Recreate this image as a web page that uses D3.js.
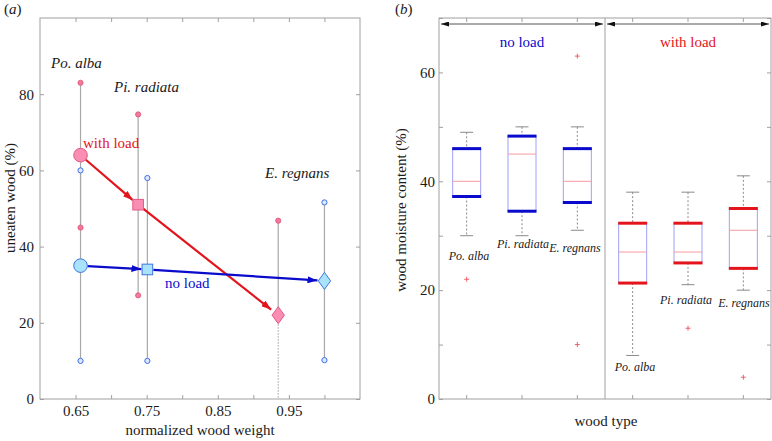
<!DOCTYPE html>
<html><head><meta charset="utf-8">
<script src="https://cdn.jsdelivr.net/npm/d3@7"></script>
<style>
html,body{margin:0;padding:0;background:#fff;}
svg{display:block;font-family:"Liberation Serif","Times New Roman",serif;}
</style></head>
<body><svg id="chart" width="772" height="441"></svg>
<script>
// ---------- Panel (a) data ----------
const species = ["Po. alba", "Pi. radiata", "E. regnans"];
const weightWithLoad = [0.657, 0.738, 0.935];
const weightNoLoad   = [0.657, 0.751, 1.0];
const uneatenWithLoad = [64, 51, 22];
const uneatenNoLoad   = [35, 34, 31];
const maxWithLoad = [83, 74.7, 46.8];
const minWithLoad = [45, 27.2, 0];
const maxNoLoad   = [60, 58, 51.6];
const minNoLoad   = [10, 10, 10.2];
const xTicksA = [0.65, 0.70, 0.75, 0.80, 0.85, 0.90, 0.95, 1.00];
const xLabelsA = [0.65, 0.75, 0.85, 0.95];
const yTicksA = [0, 20, 40, 60, 80];

// ---------- Panel (b) data ----------
const groups = ["no load", "with load"];
const noLoadHi  = [49, 50, 50];
const noLoadQ3  = [46, 48.3, 46];
const noLoadMed = [40, 45, 40];
const noLoadQ1  = [37.2, 34.5, 36.1];
const noLoadLo  = [30, 30, 31];
const noLoadOut = [[22], [], [63, 10]];
const withLoadHi  = [38, 38, 41];
const withLoadQ3  = [32.3, 32.3, 35];
const withLoadMed = [27, 27, 31];
const withLoadQ1  = [21.3, 25, 24];
const withLoadLo  = [8, 21, 20];
const withLoadOut = [[], [13], [4]];
const yTicksB = [0, 10, 20, 30, 40, 50, 60, 70];
const yLabelsB = [0, 20, 40, 60];

const svg = d3.select("#chart");
const frameColor = "#a0a0a0";
const textColor = "#1a1a1a";

// arrow markers
const defs = svg.append("defs");
function mk(id, color, w, h) {
  defs.append("marker").attr("id", id).attr("viewBox", `0 0 ${w} ${h}`)
    .attr("markerUnits", "userSpaceOnUse").attr("markerWidth", w).attr("markerHeight", h)
    .attr("refX", w).attr("refY", h / 2).attr("orient", "auto-start-reverse")
    .append("path").attr("d", `M0,0 L${w},${h/2} L0,${h} z`).attr("fill", color);
}
mk("arRed", "#e3141b", 10, 7);
mk("arBlue", "#0b0bcc", 10, 7);
mk("arBlack", "#111", 8, 5);

// ================= Panel (a) =================
const xA = d3.scaleLinear().domain([0.6, 1.05]).range([40, 360]);
const yA = d3.scaleLinear().domain([0, 100]).range([399, 18]);
const gA = svg.append("g");

gA.append("rect").attr("x", 40).attr("y", 18).attr("width", 320).attr("height", 381)
  .attr("fill", "none").attr("stroke", frameColor);

function styleAxis(g, fs) {
  g.select(".domain").remove();
  g.selectAll(".tick line").attr("stroke", frameColor);
  g.selectAll(".tick text").attr("fill", textColor).attr("font-size", fs)
    .attr("font-family", "Liberation Serif");
}
gA.append("g").attr("transform", "translate(0,399)")
  .call(d3.axisBottom(xA).tickValues(xTicksA).tickSize(-4).tickPadding(6)
    .tickFormat(d => xLabelsA.some(v => Math.abs(v - d) < 1e-9) ? d3.format(".2f")(d) : ""))
  .call(g => styleAxis(g, 15));
gA.append("g").attr("transform", "translate(0,18)")
  .call(d3.axisTop(xA).tickValues(xTicksA).tickSize(-4).tickFormat(""))
  .call(g => styleAxis(g, 15));
gA.append("g").attr("transform", "translate(40,0)")
  .call(d3.axisLeft(yA).tickValues(yTicksA).tickSize(-4).tickPadding(6))
  .call(g => styleAxis(g, 15));
gA.append("g").attr("transform", "translate(360,0)")
  .call(d3.axisRight(yA).tickValues(yTicksA).tickSize(-4).tickFormat(""))
  .call(g => styleAxis(g, 15));

// range lines
const lineColor = "#a8a8a8";
species.forEach((s, i) => {
  // no load
  gA.append("line").attr("x1", xA(weightNoLoad[i])).attr("x2", xA(weightNoLoad[i]))
    .attr("y1", yA(maxNoLoad[i])).attr("y2", yA(minNoLoad[i]))
    .attr("stroke", lineColor).attr("stroke-width", 1.2);
  // with load
  if (minWithLoad[i] > 0) {
    gA.append("line").attr("x1", xA(weightWithLoad[i])).attr("x2", xA(weightWithLoad[i]))
      .attr("y1", yA(maxWithLoad[i])).attr("y2", yA(minWithLoad[i]))
      .attr("stroke", lineColor).attr("stroke-width", 1.2);
  } else {
    gA.append("line").attr("x1", xA(weightWithLoad[i])).attr("x2", xA(weightWithLoad[i]))
      .attr("y1", yA(maxWithLoad[i])).attr("y2", yA(uneatenWithLoad[i]))
      .attr("stroke", lineColor).attr("stroke-width", 1.2);
    gA.append("line").attr("x1", xA(weightWithLoad[i])).attr("x2", xA(weightWithLoad[i]))
      .attr("y1", yA(uneatenWithLoad[i])).attr("y2", yA(minWithLoad[i]))
      .attr("stroke", "#888").attr("stroke-width", 0.8).attr("stroke-dasharray", "1.5,1.5");
  }
});
// small end markers
species.forEach((s, i) => {
  [maxWithLoad[i], minWithLoad[i]].forEach(v => {
    if (v > 0) gA.append("circle").attr("cx", xA(weightWithLoad[i])).attr("cy", yA(v)).attr("r", 2.6)
      .attr("fill", "#f07a98").attr("stroke", "#e0557c").attr("stroke-width", 0.8);
  });
  [maxNoLoad[i], minNoLoad[i]].forEach(v => {
    gA.append("circle").attr("cx", xA(weightNoLoad[i])).attr("cy", yA(v)).attr("r", 2.6)
      .attr("fill", "#dfe8ff").attr("stroke", "#3d6fe6").attr("stroke-width", 1);
  });
});

// arrows between means
function arrows(wx, uy, color, marker, r0, r1s) {
  for (let i = 0; i < wx.length - 1; i++) {
    const x0 = xA(wx[i]), y0 = yA(uy[i]), x1 = xA(wx[i + 1]), y1 = yA(uy[i + 1]);
    const dx = x1 - x0, dy = y1 - y0, L = Math.hypot(dx, dy);
    const ux = dx / L, uyy = dy / L;
    const s0 = r0[i], s1 = r1s[i];
    gA.append("line").attr("x1", x0 + ux * s0).attr("y1", y0 + uyy * s0)
      .attr("x2", x1 - ux * s1).attr("y2", y1 - uyy * s1)
      .attr("stroke", color).attr("stroke-width", 2.2).attr("marker-end", `url(#${marker})`);
  }
}
arrows(weightWithLoad, uneatenWithLoad, "#e3141b", "arRed", [7, 6], [7, 9]);
arrows(weightNoLoad, uneatenNoLoad, "#0b0bcc", "arBlue", [7, 6], [6, 7]);

// mean markers
function markers(wx, uy, fill, stroke) {
  const shapes = ["circle", "square", "diamond"];
  wx.forEach((w, i) => {
    const cx = xA(w), cy = yA(uy[i]);
    if (shapes[i] === "circle") {
      gA.append("circle").attr("cx", cx).attr("cy", cy).attr("r", 6.8)
        .attr("fill", fill).attr("stroke", stroke).attr("stroke-width", 1);
    } else if (shapes[i] === "square") {
      gA.append("rect").attr("x", cx - 5.3).attr("y", cy - 5.3).attr("width", 10.6).attr("height", 10.6)
        .attr("fill", fill).attr("stroke", stroke).attr("stroke-width", 1);
    } else {
      gA.append("path").attr("d", `M${cx},${cy-8.5} L${cx+6.2},${cy} L${cx},${cy+8.5} L${cx-6.2},${cy} Z`)
        .attr("fill", fill).attr("stroke", stroke).attr("stroke-width", 1);
    }
  });
}
markers(weightWithLoad, uneatenWithLoad, "#f98db3", "#e35a84");
markers(weightNoLoad, uneatenNoLoad, "#a9e3fb", "#4073e0");

// annotations (a)
const spA = [[51, 68], [114, 92], [265, 178]];
species.forEach((s, i) => {
  gA.append("text").attr("x", spA[i][0]).attr("y", spA[i][1]).text(s)
    .attr("font-size", 15).attr("font-style", "italic").attr("fill", textColor);
});
gA.append("text").attr("x", 83).attr("y", 148).text("with load").attr("font-size", 15).attr("fill", "#e3141b");
gA.append("text").attr("x", 165).attr("y", 288).text("no load").attr("font-size", 15).attr("fill", "#0b0bcc");
gA.append("text").attr("x", 200).attr("y", 435).attr("text-anchor", "middle").text("normalized wood weight")
  .attr("font-size", 15).attr("fill", textColor);
gA.append("text").attr("transform", "translate(15,198) rotate(-90)").attr("text-anchor", "middle")
  .text("uneaten wood (%)").attr("font-size", 15).attr("fill", textColor);
gA.append("text").attr("x", 4).attr("y", 14).attr("font-size", 15).attr("fill", textColor)
  .html('(<tspan font-style="italic">a</tspan>)');

// ================= Panel (b) =================
const cats = [];
groups.forEach(g => species.forEach(s => cats.push(g + "|" + s)));
const xB = d3.scaleBand().domain(cats).range([439, 771]);
const yB = d3.scaleLinear().domain([0, 70]).range([399, 18]);
const gB = svg.append("g");

gB.append("rect").attr("x", 439).attr("y", 18).attr("width", 332).attr("height", 381)
  .attr("fill", "none").attr("stroke", frameColor);
gB.append("line").attr("x1", xB(cats[3])).attr("x2", xB(cats[3])).attr("y1", 18).attr("y2", 399)
  .attr("stroke", frameColor);

gB.append("g").attr("transform", "translate(0,399)")
  .call(d3.axisBottom(xB).tickSize(-4).tickFormat(""))
  .call(g => styleAxis(g, 15));
gB.append("g").attr("transform", "translate(0,18)")
  .call(d3.axisTop(xB).tickSize(-4).tickFormat(""))
  .call(g => styleAxis(g, 15));
gB.append("g").attr("transform", "translate(439,0)")
  .call(d3.axisLeft(yB).tickValues(yTicksB).tickSize(-4).tickPadding(4)
    .tickFormat(d => yLabelsB.includes(d) ? d : ""))
  .call(g => styleAxis(g, 15));
gB.append("g").attr("transform", "translate(771,0)")
  .call(d3.axisRight(yB).tickValues(yTicksB).tickSize(-4).tickFormat(""))
  .call(g => styleAxis(g, 15));

// boxes
const boxData = [];
species.forEach((s, i) => boxData.push({cat: "no load|" + s, hi: noLoadHi[i], q3: noLoadQ3[i], med: noLoadMed[i], q1: noLoadQ1[i], lo: noLoadLo[i], out: noLoadOut[i], color: "#0a0acc"}));
species.forEach((s, i) => boxData.push({cat: "with load|" + s, hi: withLoadHi[i], q3: withLoadQ3[i], med: withLoadMed[i], q1: withLoadQ1[i], lo: withLoadLo[i], out: withLoadOut[i], color: "#e3141b"}));
const bw = 28, cw = 13;
boxData.forEach(d => {
  const cx = xB(d.cat) + xB.bandwidth() / 2;
  // whiskers
  gB.append("line").attr("x1", cx).attr("x2", cx).attr("y1", yB(d.hi)).attr("y2", yB(d.q3))
    .attr("stroke", "#8a8a8a").attr("stroke-dasharray", "2,2");
  gB.append("line").attr("x1", cx).attr("x2", cx).attr("y1", yB(d.q1)).attr("y2", yB(d.lo))
    .attr("stroke", "#8a8a8a").attr("stroke-dasharray", "2,2");
  [d.hi, d.lo].forEach(v => gB.append("line").attr("x1", cx - cw / 2).attr("x2", cx + cw / 2)
    .attr("y1", yB(v)).attr("y2", yB(v)).attr("stroke", "#8a8a8a"));
  // box
  gB.append("rect").attr("x", cx - bw / 2).attr("y", yB(d.q3)).attr("width", bw).attr("height", yB(d.q1) - yB(d.q3))
    .attr("fill", "none").attr("stroke", "#a0a0f5").attr("stroke-width", 1);
  gB.append("line").attr("x1", cx - bw / 2).attr("x2", cx + bw / 2).attr("y1", yB(d.med)).attr("y2", yB(d.med))
    .attr("stroke", "#f59aa0").attr("stroke-width", 1);
  [d.q3, d.q1].forEach(v => gB.append("line").attr("x1", cx - bw / 2 - 0.5).attr("x2", cx + bw / 2 + 0.5)
    .attr("y1", yB(v)).attr("y2", yB(v)).attr("stroke", d.color).attr("stroke-width", 3));
  d.out.forEach(v => {
    gB.append("path").attr("d", `M${cx-2.5},${yB(v)} h5 M${cx},${yB(v)-2.5} v5`)
      .attr("stroke", "#f05060").attr("stroke-width", 0.9);
  });
});

// species labels (b)
const spB = [[469, 260], [523, 248], [575, 252], [635, 371], [686, 304], [744, 307]];
cats.forEach((c, i) => {
  gB.append("text").attr("x", spB[i][0]).attr("y", spB[i][1]).attr("text-anchor", "middle")
    .text(c.split("|")[1]).attr("font-size", 12).attr("font-style", "italic").attr("fill", textColor);
});

// group arrows and labels
const groupColors = ["#0b0bcc", "#e3141b"];
groups.forEach((g, gi) => {
  const a = xB(cats[gi * 3]), b = xB(cats[gi * 3 + 2]) + xB.bandwidth();
  gB.append("line").attr("x1", a + 2).attr("x2", b - 2).attr("y1", 24).attr("y2", 24)
    .attr("stroke", "#555").attr("stroke-width", 1)
    .attr("marker-start", "url(#arBlack)").attr("marker-end", "url(#arBlack)");
  gB.append("text").attr("x", (a + b) / 2).attr("y", 47).attr("text-anchor", "middle")
    .text(g).attr("font-size", 15).attr("fill", groupColors[gi]);
});

gB.append("text").attr("x", 606).attr("y", 426).attr("text-anchor", "middle").text("wood type")
  .attr("font-size", 15).attr("fill", textColor);
gB.append("text").attr("transform", "translate(406,210) rotate(-90)").attr("text-anchor", "middle")
  .text("wood moisture content (%)").attr("font-size", 15).attr("fill", textColor);
gB.append("text").attr("x", 395).attr("y", 14).attr("font-size", 15).attr("fill", textColor)
  .html('(<tspan font-style="italic">b</tspan>)');
</script>
</body></html>
